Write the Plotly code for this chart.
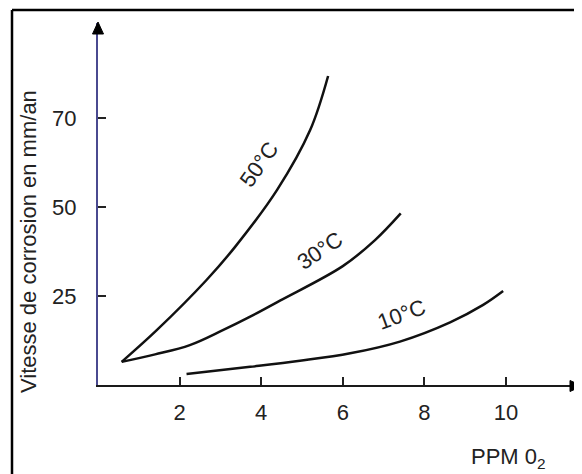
import plotly.graph_objects as go

# ---- data ----
x_50 = [0.58, 1.44, 2.66, 3.36, 4.39, 5.20, 5.64]
y_50 = [6.5, 15.4, 29.5, 38.8, 54.8, 71.6, 86.8]

x_30 = [0.58, 1.40, 2.25, 3.06, 3.73, 4.46, 6.00, 6.79, 7.42]
y_30 = [6.5, 8.6, 11.2, 15.4, 19.2, 23.7, 33.4, 40.7, 48.2]

x_10 = [2.17, 3.73, 4.95, 6.18, 7.40, 8.63, 9.44, 9.93]
y_10 = [3.1, 5.1, 6.8, 8.9, 12.2, 17.6, 22.5, 26.4]

x_ticks = [2, 4, 6, 8, 10]
y_tickvals = [25, 50, 75]
y_ticktext = ["25", "50", "70"]

series_names = ["50°C", "30°C", "10°C"]
label_pos = [(3.95, 61.8, -55), (5.44, 37.9, -34), (7.44, 19.7, -20)]

# ---- layout geometry (page body has an 8px margin) ----
OFF = 8
W, H = 582 - OFF, 474 - OFF
ML, MR, MT, MB = 98 - OFF, 0, 23 - OFF, 89
PW, PH = W - ML - MR, H - MT - MB
FONT = "Liberation Sans, Arial, sans-serif"
TXT = "#222222"


def px(xs):
    return (xs - OFF - ML) / PW


def py(ys):
    return (H - MB - (ys - OFF)) / PH


fig = go.Figure()
for xs, ys, name in zip([x_50, x_30, x_10], [y_50, y_30, y_10], series_names):
    fig.add_trace(go.Scatter(x=xs, y=ys, mode="lines", name=name,
                             line=dict(color="#111111", width=2.5, shape="spline", smoothing=1.0),
                             showlegend=False, hoverinfo="skip"))

for name, (lx, ly, ang) in zip(series_names, label_pos):
    fig.add_annotation(x=lx, y=ly, xref="x", yref="y", text=name, showarrow=False,
                       textangle=ang, xanchor="center", yanchor="middle",
                       font=dict(family=FONT, size=22, color=TXT))

# axis title texts
fig.add_annotation(x=px(28), y=py(242), xref="paper", yref="paper",
                   text="Vitesse de corrosion en mm/an", showarrow=False, textangle=-90,
                   xanchor="center", yanchor="middle",
                   font=dict(family=FONT, size=22, color=TXT))
fig.add_annotation(x=px(508), y=py(458), xref="paper", yref="paper",
                   text="PPM 0<sub>2</sub>", showarrow=False,
                   xanchor="center", yanchor="middle",
                   font=dict(family=FONT, size=22, color=TXT))

shapes = []
# frame (left and top)
shapes.append(dict(type="line", xref="paper", yref="paper", x0=px(12), x1=px(12), y0=py(10), y1=py(480),
                   line=dict(color="black", width=2.5)))
shapes.append(dict(type="line", xref="paper", yref="paper", x0=px(12), x1=px(590), y0=py(10), y1=py(10),
                   line=dict(color="black", width=2.5)))
# arrowheads
shapes.append(dict(type="path", xref="paper", yref="paper",
                   path=f"M {px(98)} {py(22)} L {px(92.5)} {py(34)} L {px(103.5)} {py(34)} Z",
                   fillcolor="black", line=dict(color="black", width=1)))
shapes.append(dict(type="path", xref="paper", yref="paper",
                   path=f"M {px(582)} {py(386)} L {px(570)} {py(380.5)} L {px(570)} {py(391.5)} Z",
                   fillcolor="black", line=dict(color="black", width=1)))

fig.update_layout(
    width=W, height=H,
    margin=dict(l=ML, r=MR, t=MT, b=MB, pad=0),
    paper_bgcolor="white", plot_bgcolor="white",
    shapes=shapes,
    xaxis=dict(range=[0, PW / 40.8], tickvals=x_ticks, ticks="inside", ticklen=8, tickwidth=1.5,
               tickcolor="#222222", showline=True, linecolor="#1a1a1a", linewidth=2,
               showgrid=False, zeroline=False, ticklabelstandoff=7,
               tickfont=dict(family=FONT, size=22, color=TXT), fixedrange=True),
    yaxis=dict(range=[0, PH / 3.56], tickvals=y_tickvals, ticktext=y_ticktext, ticks="inside",
               ticklen=8, tickwidth=1.5, tickcolor="#222222", showline=True, linecolor="#4a4a90",
               linewidth=2, showgrid=False, zeroline=False, ticklabelstandoff=15,
               tickfont=dict(family=FONT, size=22, color=TXT), fixedrange=True),
)

fig.write_html("out.html")
